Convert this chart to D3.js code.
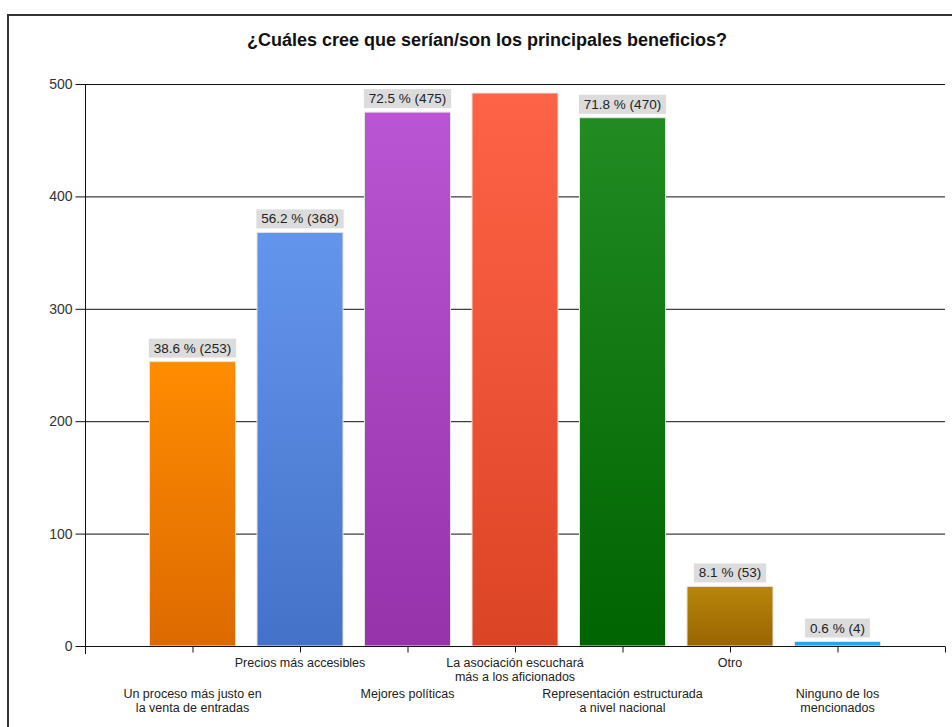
<!DOCTYPE html>
<html>
<head>
<meta charset="utf-8">
<script src="https://cdn.jsdelivr.net/npm/d3@7"></script>
<style>
  body { margin: 0; background: #fff; }
  text { font-family: "Liberation Sans", Arial, sans-serif; }
</style>
</head>
<body>
<svg id="chart" width="952" height="727"></svg>
<script>
// chart data
var categories = [
    ["Un proceso más justo en", "la venta de entradas"],
    ["Precios más accesibles"],
    ["Mejores políticas"],
    ["La asociación escuchará", "más a los aficionados"],
    ["Representación estructurada", "a nivel nacional"],
    ["Otro"],
    ["Ninguno de los", "mencionados"]
];
var counts = [253, 368, 475, 492, 470, 53, 4];
var labels = ["38.6 % (253)", "56.2 % (368)", "72.5 % (475)", "", "71.8 % (470)", "8.1 % (53)", "0.6 % (4)"];
var yTicks = [0, 100, 200, 300, 400, 500];
var colorsTop = ["#ff8c00", "#6495ed", "#ba55d3", "#ff6347", "#228b22", "#b8860b", "#1ea8ee"];
var colorsBottom = ["#dd6a00", "#4472c8", "#9632aa", "#dc4426", "#006400", "#9a6400", "#1ea8ee"];

var svg = d3.select("#chart");

// frame
svg.append("path")
    .attr("d", "M8,730 L8,15 L960,15")
    .attr("fill", "none")
    .attr("stroke", "#333")
    .attr("stroke-width", 2);

svg.append("text")
    .attr("x", 487)
    .attr("y", 46)
    .attr("text-anchor", "middle")
    .attr("font-size", "18px")
    .attr("font-weight", "bold")
    .attr("fill", "#111")
    .text("¿Cuáles cree que serían/son los principales beneficios?");

var plotL = 85, plotR = 945, plotT = 84, plotB = 646;

var x = d3.scaleLinear().domain([0, categories.length + 1]).range([plotL, plotR]);
var y = d3.scaleLinear().domain([0, 500]).range([plotB, plotT]);
var step = x(1) - x(0);
var barW = step * 0.8;

// gradients
var defs = svg.append("defs");
counts.forEach(function (d, i) {
    var g = defs.append("linearGradient")
        .attr("id", "grad" + i)
        .attr("x1", 0).attr("y1", 0).attr("x2", 0).attr("y2", 1);
    g.append("stop").attr("offset", "0%").attr("stop-color", colorsTop[i]);
    g.append("stop").attr("offset", "100%").attr("stop-color", colorsBottom[i]);
});

// gridlines
svg.append("g")
    .selectAll("line")
    .data(yTicks)
    .enter().append("line")
    .attr("x1", plotL).attr("x2", plotR)
    .attr("y1", function (d) { return y(d) + 0.5; })
    .attr("y2", function (d) { return y(d) + 0.5; })
    .attr("stroke", "#111")
    .attr("stroke-width", 1);

// bars
svg.append("g")
    .selectAll("rect")
    .data(counts)
    .enter().append("rect")
    .attr("x", function (d, i) { return x(i + 1) - barW / 2; })
    .attr("y", function (d) { return y(d); })
    .attr("width", barW)
    .attr("height", function (d) { return y(0) - y(d); })
    .attr("fill", function (d, i) { return "url(#grad" + i + ")"; })
    .attr("stroke", "#e4e4e4")
    .attr("stroke-width", 1);

// value labels
var lab = svg.append("g")
    .selectAll("g")
    .data(counts.map(function (d, i) { return { v: d, i: i, t: labels[i] }; })
        .filter(function (d) { return d.t !== ""; }))
    .enter().append("g");

lab.append("text")
    .attr("x", function (d) { return x(d.i + 1); })
    .attr("y", function (d) { return y(d.v) - 9; })
    .attr("text-anchor", "middle")
    .attr("font-size", "13.5px")
    .attr("fill", "#222")
    .text(function (d) { return d.t; })
    .each(function () {
        var b = this.getBBox();
        d3.select(this.parentNode).insert("rect", "text")
            .attr("x", b.x - 5)
            .attr("y", b.y - 2)
            .attr("width", b.width + 10)
            .attr("height", b.height + 4)
            .attr("fill", "#dcdcdc");
    });

// y axis
var yAxis = svg.append("g")
    .attr("transform", "translate(" + (plotL + 0.5) + ",0)")
    .call(d3.axisLeft(y).tickValues(yTicks).tickSize(10).tickPadding(3));
yAxis.select(".domain").remove();
yAxis.append("line")
    .attr("y1", plotT).attr("y2", plotB + 8)
    .attr("stroke", "#111");
yAxis.selectAll("text")
    .attr("font-size", "14px")
    .attr("fill", "#333")
    .attr("font-family", "\"Liberation Sans\", Arial, sans-serif");
yAxis.selectAll(".tick line").attr("stroke", "#111");

// x axis
var xAxis = svg.append("g")
    .attr("transform", "translate(0," + (plotB + 0.5) + ")")
    .call(d3.axisBottom(x).tickValues(d3.range(1, categories.length + 2)).tickSize(6).tickFormat(""));
xAxis.select(".domain").attr("stroke", "#111").attr("d", "M" + plotL + ",0H" + plotR);
xAxis.selectAll(".tick line").attr("stroke", "#111");

var catG = svg.append("g")
    .selectAll("text")
    .data(categories)
    .enter().append("text")
    .attr("text-anchor", "middle")
    .attr("font-size", "12.5px")
    .attr("fill", "#222")
    .attr("transform", function (d, i) {
        var yy = (i % 2 === 0) ? 698 : 667;
        return "translate(" + x(i + 1) + "," + yy + ")";
    });

catG.selectAll("tspan")
    .data(function (d) { return d; })
    .enter().append("tspan")
    .attr("x", 0)
    .attr("dy", function (d, j) { return j === 0 ? 0 : 14; })
    .text(function (d) { return d; });
</script>
</body>
</html>
